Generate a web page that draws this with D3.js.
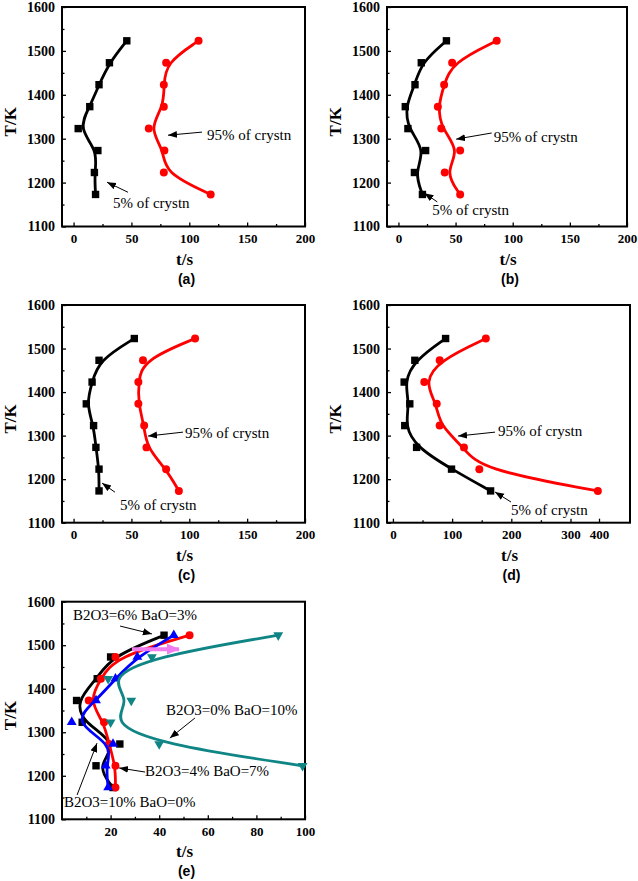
<!DOCTYPE html>
<meta charset="utf-8">
<style>
body { margin: 0; background: #fff; }
svg text { font-family: "Liberation Serif", "Times New Roman", serif; }
</style>
<svg width="638" height="881"></svg>
<script src="https://cdn.jsdelivr.net/npm/d3@7"></script>
<script>

// temperatures (K), shared by every series
var temps = [1523, 1473, 1423, 1373, 1323, 1273, 1223, 1173];

// time (s) for 5% and 95% of crystallization
var a5  = [46, 31, 22, 14, 4, 21, 18, 19];
var a95 = [108, 80, 78, 78, 65, 78.5, 78, 118.5];
var b5  = [42, 20, 14.5, 6, 8.3, 23.8, 14, 21];
var b95 = [86, 47, 40, 34.5, 37.5, 54, 40.5, 54];
var c5  = [52.5, 22, 16, 11, 17.3, 19.3, 22, 22];
var c95 = [105, 60, 56, 56, 61, 63, 80, 91];
var d5  = [89, 37, 19, 28.5, 20, 40, 99, 165];
var d95 = [157, 79, 53, 74, 79, 120, 146, 396];

var xTicksABC = [0, 50, 100, 150, 200];
var xMinorABC = [25, 75, 125, 175];
var xTicksD = [0, 100, 200, 300, 400];
var xMinorD = [50, 150, 250];
var xTicksE = [20, 40, 60, 80, 100];
var xMinorE = [10, 30, 50, 70, 90];
var yTicks = [1100, 1200, 1300, 1400, 1500, 1600];
var yMinor = [1150, 1250, 1350, 1450, 1550];

var compLabels = ["B2O3=10% BaO=0%", "B2O3=6% BaO=3%", "B2O3=4% BaO=7%", "B2O3=0% BaO=10%"];

var svg = d3.select("svg");

var defs = svg.append("defs");
defs.append("marker")
    .attr("id", "arr")
    .attr("markerUnits", "userSpaceOnUse")
    .attr("markerWidth", 10).attr("markerHeight", 8)
    .attr("refX", 9).attr("refY", 3.5)
    .attr("orient", "auto")
  .append("path")
    .attr("d", "M0,0L9,3.5L0,7Z")
    .attr("fill", "#000");
defs.append("marker")
    .attr("id", "arrPink")
    .attr("markerUnits", "userSpaceOnUse")
    .attr("markerWidth", 14).attr("markerHeight", 12)
    .attr("refX", 12).attr("refY", 5.5)
    .attr("orient", "auto")
  .append("path")
    .attr("d", "M0,0L13,5.5L0,11Z")
    .attr("fill", "#f07cf0");

var panels = [
  {tag: "(a)", left: 62, right: 305, top: 7, bottom: 226.5,
   xd: [-10, 200], xr: null, ticks: xTicksABC, minor: xMinorABC,
   series: [{v: a5, c: "#000", s: "square"}, {v: a95, c: "#ff0000", s: "circle"}],
   notes: [{text: "95% of crystn", tx: 115.3, tT: 1297, from: [111, 1315], to: [81.6, 1308]},
           {text: "5% of crystn", tx: 34, tT: 1142, from: [47, 1178], to: [28.9, 1201]}]},
  {tag: "(b)", left: 387, right: 627, top: 7, bottom: 226.5,
   xd: [-10, 200], xr: null, ticks: xTicksABC, minor: xMinorABC,
   series: [{v: b5, c: "#000", s: "square"}, {v: b95, c: "#ff0000", s: "circle"}],
   notes: [{text: "95% of crystn", tx: 83.3, tT: 1292.5, from: [81.6, 1313], to: [50.5, 1299]},
           {text: "5% of crystn", tx: 29.7, tT: 1126, from: [34, 1156], to: [22.8, 1176]}]},
  {tag: "(c)", left: 62, right: 305, top: 305, bottom: 522.7,
   xd: [-10, 200], xr: null, ticks: xTicksABC, minor: xMinorABC,
   series: [{v: c5, c: "#000", s: "square"}, {v: c95, c: "#ff0000", s: "circle"}],
   notes: [{text: "95% of crystn", tx: 96.3, tT: 1294.5, from: [94.6, 1308], to: [64.4, 1299]},
           {text: "5% of crystn", tx: 40.1, tT: 1129, from: [35.8, 1170], to: [24.6, 1191]}]},
  {tag: "(d)", left: 387, right: 630, top: 305, bottom: 522.7,
   xd: [-10, 300, 400, 509], xr: [387, 570.5, 599, 630], ticks: xTicksD, minor: xMinorD,
   series: [{v: d5, c: "#000", s: "square"}, {v: d95, c: "#ff0000", s: "circle"}],
   notes: [{text: "95% of crystn", tx: 177.5, tT: 1299, from: [172.5, 1308], to: [110, 1299]},
           {text: "5% of crystn", tx: 199.5, tT: 1117.6, from: [199.5, 1147.5], to: [172.5, 1170.5]}]},
  {tag: "(e)", left: 62, right: 305, top: 601.7, bottom: 819.3,
   xd: [0, 100], xr: null, ticks: xTicksE, minor: xMinorE,
   series: [{v: b5, c: "#000", s: "square"}, {v: c5, c: "#ff0000", s: "circle"},
            {v: a5, c: "#0000ff", s: "up"}, {v: d5, c: "#108585", s: "down"}],
   notes: [{text: compLabels[1], tx: 4.5, tT: 1558, from: [23.9, 1544], to: [37, 1526]},
           {text: compLabels[3], tx: 42.8, tT: 1340, from: [54.7, 1332.7], to: [44.4, 1286.6]},
           {text: compLabels[2], tx: 34.2, tT: 1198.6, from: [34.2, 1208.6], to: [23.5, 1218]},
           {text: compLabels[0], tx: 0.8, tT: 1128, from: [6.2, 1155.8], to: [14.4, 1275]}],
   pink: {from: [28.8, 1491], to: [50.6, 1491]}}
];

panels.forEach(function(p) {
  var x = d3.scaleLinear().domain(p.xd)
      .range(p.xr || [p.left, p.right]);
  var y = d3.scaleLinear().domain([1100, 1600]).range([p.bottom, p.top]);
  var g = svg.append("g");

  // axes, ticks pointing inward
  var xAxis = g.append("g").attr("class", "xa").attr("transform", "translate(0," + p.bottom + ")")
      .call(d3.axisBottom(x).tickValues(p.ticks).tickSize(-4).tickPadding(7)
        .tickFormat(d3.format("d")));
  g.append("g").attr("transform", "translate(0," + p.bottom + ")")
      .call(d3.axisBottom(x).tickValues(p.minor).tickSize(-2.5).tickFormat(""));
  var yAxis = g.append("g").attr("class", "ya").attr("transform", "translate(" + p.left + ",0)")
      .call(d3.axisLeft(y).tickValues(yTicks).tickSize(-4).tickPadding(7)
        .tickFormat(d3.format("d")));
  g.append("g").attr("transform", "translate(" + p.left + ",0)")
      .call(d3.axisLeft(y).tickValues(yMinor).tickSize(-2.5).tickFormat(""));
  g.selectAll(".domain").remove();
  g.selectAll(".tick line").attr("stroke", "#000").attr("stroke-width", 1.3);
  g.selectAll(".tick text")
      .style("font-family", "'Liberation Serif', serif")
      .style("font-weight", "bold").attr("fill", "#000");
  g.selectAll(".xa .tick text").style("font-size", "13px");
  g.selectAll(".ya .tick text").style("font-size", "14px");

  g.append("rect")
      .attr("x", p.left).attr("y", p.top)
      .attr("width", p.right - p.left).attr("height", p.bottom - p.top)
      .attr("fill", "none").attr("stroke", "#000").attr("stroke-width", 2);

  // titles
  g.append("text")
      .attr("transform", "translate(" + (p.left - 52) + "," + ((p.top + p.bottom) / 2 + 5) + ") rotate(-90)")
      .attr("text-anchor", "middle").attr("dominant-baseline", "central")
      .style("font-weight", "bold").style("font-size", "17px").text("T/K");
  g.append("text")
      .attr("x", (p.left + p.right) / 2 + 1).attr("y", p.bottom + 38)
      .attr("text-anchor", "middle")
      .style("font-weight", "bold").style("font-size", "17px").text("t/s");
  g.append("text")
      .attr("x", (p.left + p.right) / 2 + 3).attr("y", p.bottom + 57)
      .attr("text-anchor", "middle")
      .style("font-family", "'Liberation Sans', Arial, sans-serif")
      .style("font-weight", "bold").style("font-size", "14px").text(p.tag);

  // curves and markers
  var maxT = x.domain()[x.domain().length - 1];
  var line = d3.line().curve(d3.curveBasis)
      .x(function(d) { return x(d.t); })
      .y(function(d) { return y(d.T); });

  p.series.forEach(function(s) {
    var pts = temps.map(function(T, i) { return {T: T, t: s.v[i]}; })
        .filter(function(d) { return d.t <= maxT; });
    g.append("path").datum(pts)
        .attr("d", line)
        .attr("fill", "none").attr("stroke", s.c).attr("stroke-width", 2.8)
        .attr("stroke-linejoin", "round");
    var m = g.append("g").selectAll("path").data(pts).enter().append("path")
        .attr("fill", s.c)
        .attr("transform", function(d) {
          return "translate(" + x(d.t) + "," + y(d.T) + ")" + (s.s === "down" ? " rotate(180)" : "");
        });
    if (s.s === "square") m.attr("d", "M-3.7,-3.7H3.7V3.7H-3.7Z");
    else if (s.s === "circle") m.attr("d", d3.symbol(d3.symbolCircle, 50)());
    else m.attr("d", d3.symbol(d3.symbolTriangle, 42)());
  });

  // annotations
  p.notes.forEach(function(n) {
    g.append("line")
        .attr("x1", x(n.from[0])).attr("y1", y(n.from[1]))
        .attr("x2", x(n.to[0])).attr("y2", y(n.to[1]))
        .attr("stroke", "#000").attr("stroke-width", 1)
        .attr("marker-end", "url(#arr)");
    g.append("text")
        .attr("x", x(n.tx)).attr("y", y(n.tT))
        .style("font-size", "15px").attr("fill", "#000")
        .text(n.text);
  });

  if (p.pink) {
    g.append("line")
        .attr("x1", x(p.pink.from[0])).attr("y1", y(p.pink.from[1]))
        .attr("x2", x(p.pink.to[0]) - 6).attr("y2", y(p.pink.to[1]))
        .attr("stroke", "#f07cf0").attr("stroke-width", 4)
        .attr("marker-end", "url(#arrPink)");
  }
});

</script>
